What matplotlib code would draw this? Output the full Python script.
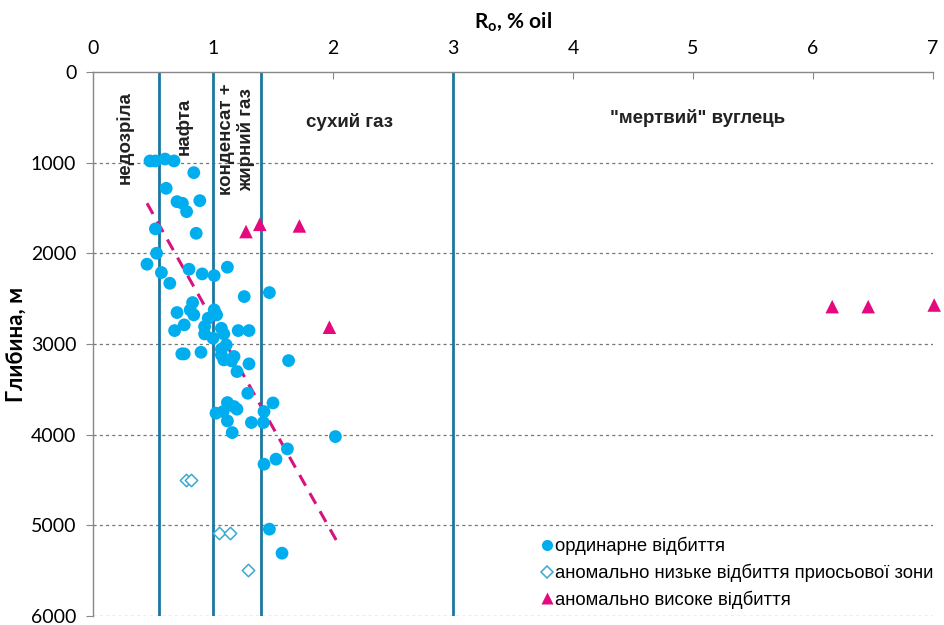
import matplotlib
matplotlib.use("Agg")
import matplotlib.pyplot as plt
from matplotlib.lines import Line2D

# --- data -----------------------------------------------------------------
ordinary_ro = [0.475, 0.52, 0.60, 0.675, 0.84, 0.61, 0.70, 0.745, 0.89, 0.78,
               0.52, 0.86, 0.53, 0.45, 0.57, 0.80, 0.91, 1.01, 1.12, 0.64,
               1.26, 1.47, 0.83, 0.81, 0.84, 0.70, 1.01, 1.03, 0.96, 0.93,
               0.76, 0.68, 0.93, 1.00, 1.07, 1.09, 1.21, 1.30, 1.11, 1.07,
               1.07, 1.09, 0.74, 0.76, 0.90, 1.175, 1.155, 1.30, 1.63, 1.20,
               1.29, 1.50, 1.12, 1.175, 1.20, 1.025, 1.085, 1.12, 1.32, 1.425,
               1.42, 1.16, 2.02, 1.62, 1.525, 1.425, 1.47, 1.575]
ordinary_depth = [981, 981, 960, 981, 1110, 1283, 1430, 1448, 1419, 1540,
                  1730, 1779, 1999, 2120, 2212, 2175, 2227, 2246, 2153, 2330,
                  2477, 2433, 2543, 2624, 2679, 2653, 2624, 2679, 2716, 2808,
                  2789, 2852, 2889, 2936, 2827, 2889, 2852, 2852, 3010, 3057,
                  3120, 3175, 3109, 3109, 3091, 3138, 3186, 3219, 3183, 3304,
                  3543, 3650, 3646, 3690, 3719, 3763, 3745, 3848, 3866, 3745,
                  3866, 3977, 4021, 4157, 4270, 4326, 5042, 5307]

low_ro = [0.775, 0.82, 1.05, 1.14, 1.29]
low_depth = [4498, 4498, 5086, 5086, 5490]

high_ro = [1.275, 1.39, 1.72, 1.97, 6.16, 6.46, 7.01]
high_depth = [1760, 1680, 1698, 2815, 2588, 2588, 2570]

trend_ro = [0.45, 2.03]
trend_depth = [1448, 5171]

zone_bounds = [0.55, 1.0, 1.4, 3.0]

x_ticks = [0, 1, 2, 3, 4, 5, 6, 7]
y_ticks = [0, 1000, 2000, 3000, 4000, 5000, 6000]

legend_labels = ["ординарне відбиття",
                 "аномально низьке відбиття приосьової зони",
                 "аномально високе відбиття"]

# --- style ----------------------------------------------------------------
BLUE = "#00AEEF"
TEAL = "#1C77A0"
MAGENTA = "#E5087E"
TICK_FONT = ["Lato", "DejaVu Sans"]
TEXT_FONT = ["Liberation Sans", "DejaVu Sans"]

fig = plt.figure(figsize=(9.45, 6.25), dpi=100)
ax = fig.add_axes([93 / 945, 1 - 616 / 625, 840 / 945, 544 / 625])

ax.set_xlim(0, 7)
ax.set_ylim(6000, 0)

# horizontal dashed grid
for d in y_ticks[1:]:
    ax.axhline(d, color="#777777", lw=0.9, ls=(0, (2.5, 2.5)), zorder=1)

# zone boundaries
for b in zone_bounds:
    ax.axvline(b, color=TEAL, lw=2.0, zorder=2)

# trend line
ax.plot(trend_ro, trend_depth, color="#D6137F", lw=2.2,
        ls=(0, (4, 2.8)), zorder=3)

# points
ax.scatter(ordinary_ro, ordinary_depth, s=85, color=BLUE, edgecolors="none",
           zorder=4)
ax.scatter(low_ro, low_depth, s=40, marker="D", facecolors="white",
           edgecolors="#3BA9D0", linewidths=1.1, zorder=4)
ax.scatter(high_ro, high_depth, s=95, marker="^", color=MAGENTA,
           edgecolors="none", zorder=4, clip_on=False)

# axes appearance
ax.xaxis.tick_top()
ax.xaxis.set_label_position("top")
ax.set_xticks(x_ticks)
ax.set_yticks(y_ticks)
ax.set_xticklabels([str(v) for v in x_ticks], family=TICK_FONT, fontsize=14)
ax.set_yticklabels([str(v) for v in y_ticks], family=TICK_FONT, fontsize=14)
ax.tick_params(axis="x", direction="in", length=5, color="#888888", pad=11)
ax.tick_params(axis="y", direction="out", length=5, color="#888888", pad=7)
for side in ("bottom", "right"):
    ax.spines[side].set_visible(False)
for side in ("top", "left"):
    ax.spines[side].set_color("#888888")
    ax.spines[side].set_linewidth(1.0)

ax.set_xlabel(r"R$_\mathregular{o}$, % oil", family=TICK_FONT, fontsize=15,
              fontweight="bold", labelpad=8)
ax.set_ylabel("Глибина, м", family=TICK_FONT, fontsize=16,
              fontweight="bold", labelpad=3)

# zone captions
cap = dict(family=TEXT_FONT, fontsize=13.5, fontweight="bold", color="#222222")
ax.text(0.267, 728, "недозріла", rotation=90, ha="center", va="center", **cap)
ax.text(0.76, 595, "нафта", rotation=90, ha="center", va="center", **cap)
ax.text(1.2, 740, "конденсат +\nжирний газ", rotation=90, ha="center",
        va="center", linespacing=1.15, **cap)
ax.text(2.14, 551, "сухий газ", ha="center", va="center", **cap)
ax.text(5.04, 507, "\"мертвий\" вуглець", ha="center", va="center", **cap)

# legend
handles = [
    Line2D([], [], ls="none", marker="o", ms=8, color=BLUE, mec="none"),
    Line2D([], [], ls="none", marker="D", ms=6, mfc="white", mec="#3BA9D0",
           mew=1.1),
    Line2D([], [], ls="none", marker="^", ms=9, color=MAGENTA, mec="none"),
]
ax.legend(handles, legend_labels, loc="lower right",
          bbox_to_anchor=(1.014, -0.007), frameon=False, handletextpad=0.0,
          handlelength=0.9, labelspacing=0.45, borderaxespad=0.2,
          prop={"family": TEXT_FONT, "size": 13.3})

fig.savefig("out.png", dpi=100)
